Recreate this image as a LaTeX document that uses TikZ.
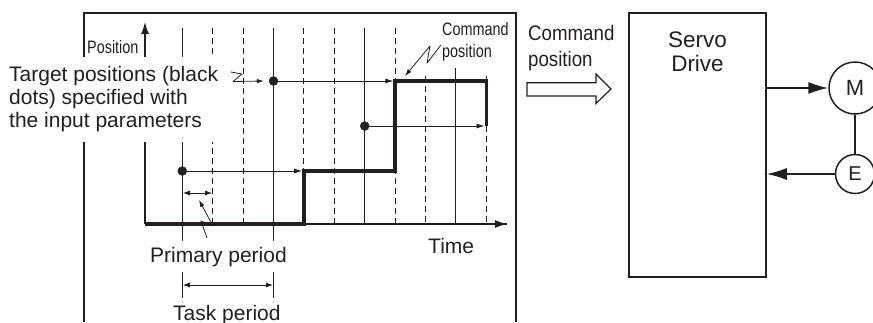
\documentclass[tikz,border=0pt]{standalone}
\usepackage{fontspec}
\setmainfont{Liberation Sans}
\newfontfamily\narrowfont[FakeStretch=0.8]{Liberation Sans}
\newfontfamily\cmdfont[FakeStretch=0.89]{Liberation Sans}
\usetikzlibrary{arrows.meta,positioning,calc}
\definecolor{ink}{RGB}{35,31,32}
\tikzset{
  tdot/.style={
    inner sep = 0pt,
    shape = circle,
    minimum size = 9pt,
    draw = ink,
    fill = ink
  },
  stepline/.style={
    line width = 3.3pt,
    line join = miter
  },
  gridsolid/.style={line width = 1pt},
  griddashed/.style={line width = 1pt, dash pattern = on 6pt off 4pt},
}
\tikzset{
  tgt/.style={-{Latex[length=8pt,width=5pt]}, line width = 0.9pt},
  span/.style={{Latex[length=7pt,width=5pt]}-{Latex[length=7pt,width=5pt]}, line width = 0.9pt},
  leader/.style={-{Latex[length=7pt,width=4.5pt]}, line width = 0.8pt, line join = round},
  axis/.style={-{Latex[length=12pt,width=8pt]}, line width = 1.1pt},
  sig/.style={-{Latex[length=20pt,width=12pt]}, line width = 1.5pt},
  drive/.style={
    draw,
    line width = 1.5pt,
    minimum width = 137pt,
    minimum height = 264pt,
    inner sep = 0pt
  },
  unit/.style={
    draw,
    shape = circle,
    line width = 1.5pt,
    fill = white,
    inner sep = 0pt
  },
  txt/.style={
    inner sep = 0pt,
    font = \fontsize{21}{23}\selectfont
  },
  small/.style={
    inner sep = 0pt,
    align = left,
    font = \narrowfont\fontsize{18}{22}\selectfont
  }
}

\begin{document}
\begin{tikzpicture}[x=1pt, y=-1pt, color=ink, text=ink]
\useasboundingbox (0,0) rectangle (873,322);
% frame of the controller
\draw[line width=1.3pt] (84,322) -- (84,13) -- (516,13) -- (516,322);
% periods
\foreach \i/\ya/\yb in {0/28/298, 3/28/298, 6/28/224, 9/68/224}{
   \draw[gridsolid] ({182.3+30.4*\i},\ya) -- ({182.3+30.4*\i},\yb); }
\foreach \i/\ya in {1/28, 2/28, 4/28, 5/28, 7/28, 8/76, 10/76}{
   \draw[griddashed] ({182.3+30.4*\i},\ya) -- ({182.3+30.4*\i},224); }
% axes
\coordinate (o) at (145,224);
\coordinate (ytop) at (145,22);
\coordinate (xend) at (507,224);
\draw[axis] (o) -- (ytop);
\draw[line width=1.1pt] (o) -- (xend);
\draw[axis] ([xshift=-2pt]xend) -- (xend);
% command position
\coordinate (c1) at (303.9,171);
\coordinate (c3) at (395.1,81);
\coordinate (c5) at (486.3,126);
\draw[stepline] (o) -- (o -| c1) -- (c1) -- (c1 -| c3) -- (c3) -- (c3 -| c5) -- (c5);
% target positions
\node[tdot] (d1) at (273.5,81) {};
\node[tdot] (d2) at (364.7,126) {};
\node[tdot] (d3) at (182.3,171) {};
\draw[tgt] (d1) -- ([xshift=-1.7pt]c3);
\draw[tgt] (d2) -- ([xshift=-1.7pt]c5);
\draw[tgt] (d3) -- ([xshift=-1.7pt]c1);
% period spans
\coordinate (p0) at (182.8,193);
\coordinate (p1) at (212.2,193);
\coordinate (t0) at (182.8,285);
\coordinate (t1) at (273.0,285);
\draw[span] (p0) -- (p1);
\draw[span] (t0) -- (t1);
% labels
\node[small, anchor=base west] (ylab) at (87,53) {Position};
\node[txt, anchor=north west, align=left, fill=white, inner xsep=3pt, inner ysep=9.5pt] (tgtlab) at (6,57)
   {Target positions (black\\dots) specified with\\the input parameters};
\node[txt, anchor=base west, fill=white, inner xsep=3pt, inner ysep=6pt] (prim) at (147,262) {Primary period};
\node[txt, anchor=base west] (task) at (173,320) {Task period};
\node[txt, anchor=base west] (time) at (428,253) {Time};
\node[small, anchor=north west] (cmdlab) at (442,21.9) {Command\\position};
% leaders
\coordinate (l1) at (231,72);
\coordinate (l2) at (207,238);
\coordinate (l3) at (441,45);
\draw[leader] (l1) -- (242,74) -- (233,81.5) -- ([xshift=-5pt]d1.west);
\draw[leader] (l2) -- (201,221) -- (213,226) -- (199,200);
\draw[leader] (l3) -- (427,63) -- (430,46) -- (405,76);
% to the servo drive
\node[anchor=north west, inner sep=0pt, align=left, font=\cmdfont\fontsize{21}{26}\selectfont] (cmdout) at (528,24.7)
   {Command\\position};
\draw[line width=1.2pt, line join=miter] (527,82.7) -- (596,82.7) -- (596,74) -- (611,89)
   -- (596,103.5) -- (596,96) -- (527,96) -- cycle;
\node[drive] (drive) at (697.5,145) {};
\node[inner sep=0pt, align=center, font=\fontsize{22.5}{24}\selectfont, below=19.6pt of drive.north] (drivelab)
   {Servo\\Drive};
\node[unit, minimum size=52pt, font=\fontsize{22}{24}\selectfont] (M) at (855,88) {M};
\node[unit, minimum size=39pt, font=\fontsize{20}{22}\selectfont, below=39pt of M] (E) {E};
\draw[line width=1.5pt] (M.south) -- (E.north);
\draw[sig] (M.west -| drive.east) -- (M.west);
\draw[sig] (E.west) -- (E.west -| drive.east);
\end{tikzpicture}
\end{document}
